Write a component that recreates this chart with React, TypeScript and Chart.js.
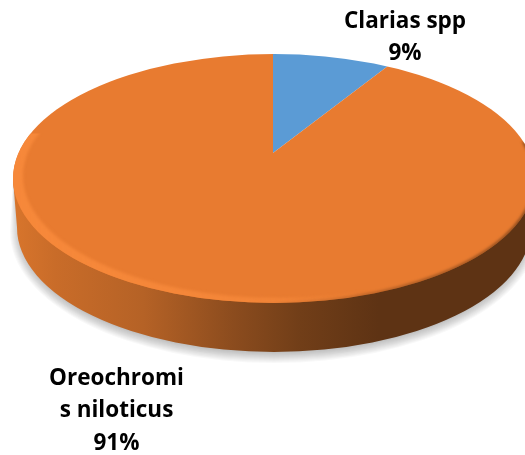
import React, { useEffect, useRef } from "react";
import { Chart, registerables } from "chart.js";

Chart.register(...registerables);

const categories = ["Clarias spp", "Oreochromis niloticus"];
const values = [9, 91];
const sliceColors = ["#5B9BD5", "#E87B30"];
const labelLines = [
  ["Clarias spp", "9%"],
  ["Oreochromi", "s niloticus", "91%"],
];

// Look of the tilted disc, in units of a 227.5px chart radius, from the chart centre.
const FACE = { dx: 11.5, dy: -49, rx: 261, ry: 124.5 };
const APEX = { dx: 10.5, dy: -74.5 };
const TILT = { sx: 2.03, sy: 0.975 };
const WALL = { depth: 49, rx: 257 };
const LABEL_POS = [
  { dx: 142.5, dy: -205.5, step: 32 },
  { dx: -146, dy: 151, step: 32.5 },
];

const discPlugin = {
  id: "disc",
  beforeDatasetsDraw(chart: any) {
    const arc = chart.getDatasetMeta(0).data[0];
    const { ctx } = chart;
    const u = arc.outerRadius / 227.5;
    const cx = arc.x + FACE.dx * u;
    const cy = arc.y + FACE.dy * u;
    const rx = FACE.rx * u;
    const ry = FACE.ry * u;
    const d = WALL.depth * u;
    const brx = WALL.rx * u;

    const wallPath = (grow = 0, down = 0) => {
      ctx.beginPath();
      ctx.moveTo(cx + rx, cy);
      ctx.lineTo(cx + brx + grow, cy + d + down);
      ctx.ellipse(cx, cy + d + down, brx + grow, ry + grow, 0, 0, Math.PI);
      ctx.lineTo(cx - rx, cy);
      ctx.closePath();
    };

    // soft ground shadow, built up from faint layers
    ctx.save();
    ctx.fillStyle = "rgba(0,0,0,0.028)";
    for (let i = 7; i >= -4; i--) {
      wallPath(i, 4);
      ctx.fill();
    }
    ctx.restore();

    // wall
    const g = ctx.createLinearGradient(cx - rx, 0, cx + rx, 0);
    g.addColorStop(0, "#d8752c");
    g.addColorStop(0.08, "#c96c29");
    g.addColorStop(0.25, "#b56226");
    g.addColorStop(0.42, "#8c4c1e");
    g.addColorStop(0.55, "#713e18");
    g.addColorStop(0.7, "#5e3314");
    g.addColorStop(1, "#5e3314");
    ctx.save();
    ctx.fillStyle = g;
    wallPath();
    ctx.fill();
    ctx.restore();

    // face: slices drawn by the library, tilted and trimmed to the ellipse
    ctx.save();
    ctx.beginPath();
    ctx.ellipse(cx, cy, rx, ry, 0, 0, Math.PI * 2);
    ctx.clip();
    ctx.translate(arc.x + APEX.dx * u, arc.y + APEX.dy * u);
    ctx.scale(TILT.sx, TILT.sy);
    ctx.translate(-arc.x, -arc.y);
  },
  afterDatasetsDraw(chart: any) {
    const { ctx } = chart;
    ctx.restore();
    const arc = chart.getDatasetMeta(0).data[0];
    const u = arc.outerRadius / 227.5;
    const cx = arc.x + FACE.dx * u;
    const cy = arc.y + FACE.dy * u;
    const rx = FACE.rx * u;
    const ry = FACE.ry * u;

    // bevel: bright crescent on the lit left, dark on the right
    ctx.save();
    ctx.beginPath();
    ctx.ellipse(cx, cy, rx, ry, 0, 0, Math.PI * 2);
    ctx.clip();
    ctx.filter = "blur(1.5px)";
    ctx.save();
    ctx.beginPath();
    ctx.rect(0, cy - 45 * u, chart.width, chart.height);
    ctx.clip();
    const hi = ctx.createLinearGradient(cx - rx, 0, cx + rx, 0);
    hi.addColorStop(0, "rgba(246,136,58,1)");
    hi.addColorStop(0.5, "rgba(246,136,58,0.8)");
    hi.addColorStop(0.68, "rgba(246,136,58,0)");
    ctx.fillStyle = hi;
    ctx.beginPath();
    ctx.ellipse(cx, cy, rx + 6, ry + 6, 0, 0, Math.PI * 2);
    ctx.ellipse(cx + 5, cy - 2.5, rx - 5, ry - 2.5, 0, 0, Math.PI * 2);
    ctx.fill("evenodd");
    ctx.restore();
    const lo = ctx.createLinearGradient(cx - rx, 0, cx + rx, 0);
    lo.addColorStop(0.45, "rgba(94,51,20,0)");
    lo.addColorStop(0.8, "rgba(94,51,20,0.7)");
    lo.addColorStop(1, "rgba(94,51,20,1)");
    ctx.strokeStyle = lo;
    ctx.lineWidth = 2;
    ctx.beginPath();
    ctx.ellipse(cx, cy, rx, ry, 0, -0.3, Math.PI * 0.6);
    ctx.stroke();
    ctx.restore();

    // data labels
    ctx.save();
    ctx.fillStyle = "#000";
    ctx.font = "bold 22.5px 'Open Sans'";
    ctx.textAlign = "center";
    ctx.textBaseline = "middle";
    labelLines.forEach((lines, i) => {
      const p = LABEL_POS[i];
      lines.forEach((line, j) => {
        ctx.fillText(line, arc.x + p.dx * u, arc.y + (p.dy + j * p.step) * u);
      });
    });
    ctx.restore();
  },
};

export default function App() {
  const ref = useRef<HTMLCanvasElement>(null);
  useEffect(() => {
    const chart = new Chart(ref.current!, {
      type: "pie",
      data: {
        labels: categories,
        datasets: [{ data: values, backgroundColor: sliceColors, borderWidth: 0 }],
      },
      options: {
        responsive: false,
        animation: false,
        layout: { padding: 0 },
        plugins: { legend: { display: false }, tooltip: { enabled: false } },
      },
      plugins: [discPlugin],
    });
    return () => chart.destroy();
  }, []);
  return (
    <div style={{ position: "absolute", left: 0, top: 0 }}>
      <canvas ref={ref} width={525} height={455} style={{ display: "block" }} />
    </div>
  );
}
